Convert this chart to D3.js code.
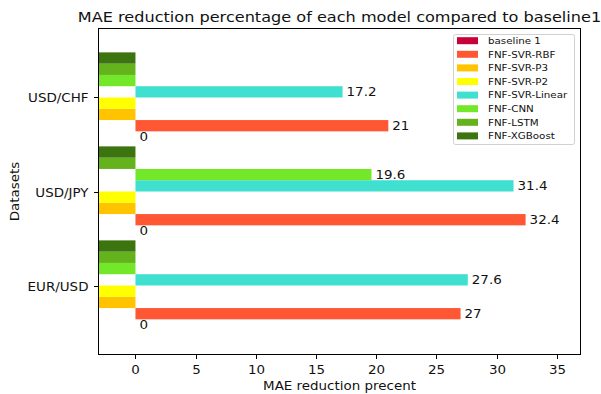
<!DOCTYPE html>
<html><head><meta charset="utf-8">
<script src="https://cdn.jsdelivr.net/npm/d3@7"></script>
<style>
html,body{margin:0;padding:0;background:#fff;}
svg{display:block;font-family:"DejaVu Sans",sans-serif;}
</style></head>
<body>
<svg id="c" width="601" height="394"></svg>
<script>
const categories = ["EUR/USD", "USD/JPY", "USD/CHF"];
const seriesNames = ["baseline 1","FNF-SVR-RBF","FNF-SVR-P3","FNF-SVR-P2","FNF-SVR-Linear","FNF-CNN","FNF-LSTM","FNF-XGBoost"];
const seriesColors = ["#C70039","#FF5733","#FFC300","#FFFF00","#40E0D0","#73E82A","#64B21C","#3C7410"];
// values per series, in category order EUR/USD, USD/JPY, USD/CHF (negative bars run off the left edge)
const baseline1 = [0, 0, 0];
const svrRBF = [27, 32.4, 21];
const svrP3 = [-5, -5, -5];
const svrP2 = [-5, -5, -5];
const svrLinear = [27.6, 31.4, 17.2];
const cnn = [-5, 19.6, -5];
const lstm = [-5, -5, -5];
const xgboost = [-5, -5, -5];
const seriesValues = [baseline1, svrRBF, svrP3, svrP2, svrLinear, cnn, lstm, xgboost];
const xTicks = [0, 5, 10, 15, 20, 25, 30, 35];

const SX = 1.12; // horizontal text stretch of the reference
const svg = d3.select("#c");
const L = 98.5, R = 580.5, T = 28.5, B = 354.5;
const x = d3.scaleLinear().domain([-3.07, 36.96]).range([L, R]);
const y = d3.scaleLinear().domain([-0.734, 2.734]).range([B, T]);
const bw = 0.12;

function txt(g, s, px, py, size, anchor, baseline, rot) {
  const t = g.append("text")
    .attr("transform", `translate(${px},${py})` + (rot ? ` rotate(${rot})` : "") + ` scale(${SX},1)`)
    .attr("font-size", size).attr("fill", "#111")
    .attr("text-anchor", anchor || "start")
    .attr("dominant-baseline", baseline || "auto")
    .text(s);
  return t;
}

svg.append("defs").append("clipPath").attr("id","clip")
  .append("rect").attr("x", L).attr("y", T).attr("width", R - L).attr("height", B - T);

const plot = svg.append("g").attr("clip-path", "url(#clip)");
seriesValues.forEach((vals, si) => {
  vals.forEach((v, ci) => {
    const c = ci + (si - 3.5) * bw;
    plot.append("rect")
      .attr("x", x(Math.min(0, v)))
      .attr("width", Math.abs(x(v) - x(0)))
      .attr("y", y(c + bw / 2))
      .attr("height", y(c - bw / 2) - y(c + bw / 2))
      .attr("fill", seriesColors[si]);
  });
});

// value labels for non-negative bars
const labels = svg.append("g");
seriesValues.forEach((vals, si) => {
  vals.forEach((v, ci) => {
    if (v < 0) return;
    const c = ci + (si - 3.5) * bw;
    txt(labels, String(v), x(v) + 4, y(c) + 1, 12, "start", "middle");
  });
});

// frame
svg.append("rect").attr("x", L).attr("y", T).attr("width", R - L).attr("height", B - T)
  .attr("fill", "none").attr("stroke", "#000").attr("stroke-width", 1);

// x axis
const xa = svg.append("g");
xTicks.forEach(t => {
  const px = Math.round(x(t)) + 0.5;
  xa.append("line").attr("x1", px).attr("x2", px).attr("y1", B).attr("y2", B + 4.5).attr("stroke", "#000");
  txt(xa, String(t), px, B + 19, 12, "middle");
});
txt(svg, "MAE reduction precent", (L + R) / 2, 390, 12, "middle");

// y axis
const ya = svg.append("g");
categories.forEach((cat, i) => {
  const py = Math.round(y(i)) + 0.5;
  ya.append("line").attr("x1", L - 4.5).attr("x2", L).attr("y1", py).attr("y2", py).attr("stroke", "#000");
  txt(ya, cat, L - 10, py + 1, 12, "end", "middle");
});
txt(svg, "Datasets", 19, (T + B) / 2, 12, "middle", "auto", -90);

// title
txt(svg, "MAE reduction percentage of each model compared to baseline1", (L + R) / 2, 22, 14.4, "middle");

// legend
const lg = svg.append("g");
lg.append("rect").attr("x", 453.5).attr("y", 34.5).attr("width", 121).attr("height", 110).attr("rx", 2)
  .attr("fill", "#fff").attr("fill-opacity", 0.8).attr("stroke", "#d0d0d0");
seriesNames.forEach((n, i) => {
  const cy = 40.7 + i * 13.6;
  lg.append("rect").attr("x", 457).attr("y", cy - 3.5).attr("width", 21).attr("height", 7).attr("fill", seriesColors[i]);
  txt(lg, n, 488, cy + 0.5, 9.2, "start", "middle");
});
</script>
</body></html>
